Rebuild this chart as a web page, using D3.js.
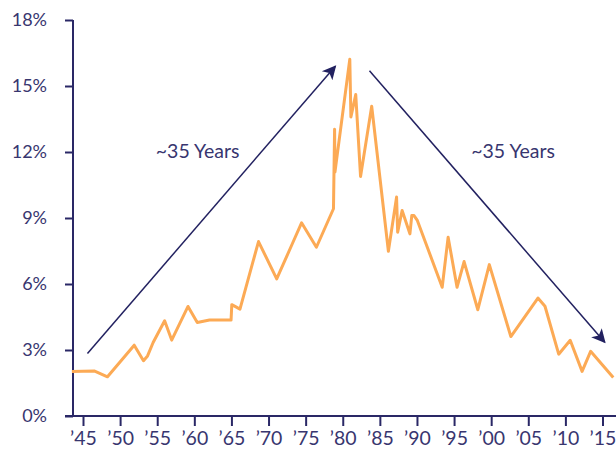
<!DOCTYPE html>
<html>
<head>
<meta charset="utf-8">
<script src="https://cdn.jsdelivr.net/npm/d3@7"></script>
<style>
  body { margin: 0; background: #fff; }
  svg text { font-family: Lato, "Open Sans", sans-serif; }
</style>
</head>
<body>
<svg id="drawing_region"></svg>
<script>
// yield line (year, percent)
const years = [1943.5, 1946.5, 1948.3, 1951.9, 1953.15, 1953.7, 1954.45, 1956.0, 1956.95, 1959.15,
               1960.4, 1962.05, 1964.95, 1965.05, 1966.15, 1968.65, 1971.1, 1973.1, 1974.45, 1976.45,
               1978.75, 1978.9, 1978.95, 1980.95, 1981.1, 1981.75, 1982.4, 1983.9, 1986.15, 1987.25,
               1987.4, 1988.0, 1989.05, 1989.3, 1989.6, 1990.05, 1993.4, 1994.2, 1995.4, 1996.35,
               1998.2, 1999.75, 2002.65, 2006.3, 2007.25, 2009.1, 2010.65, 2012.25, 2013.4, 2016.45];
const rates = [2.02, 2.05, 1.78, 3.22, 2.51, 2.73, 3.34, 4.33, 3.45, 4.98,
               4.25, 4.36, 4.36, 5.06, 4.86, 7.93, 6.23, 7.75, 8.78, 7.67,
               9.42, 13.03, 11.09, 16.22, 13.59, 14.61, 10.89, 14.08, 7.49, 9.95,
               8.35, 9.34, 8.28, 9.11, 9.11, 8.89, 5.85, 8.13, 5.85, 7.02,
               4.83, 6.88, 3.61, 5.36, 4.99, 2.81, 3.44, 2.03, 2.94, 1.75];

const xTicks = [1945, 1950, 1955, 1960, 1965, 1970, 1975, 1980, 1985, 1990, 1995, 2000, 2005, 2010, 2015];
const yTicks = [0, 3, 6, 9, 12, 15, 18];

// trend arrows: [year, percent] start -> end
const arrows = [
  { from: [1945.6, 2.84], to: [1979.0, 15.9], label: "~35 Years", at: [1960.45, 11.75] },
  { from: [1983.6, 15.69], to: [2015.3, 3.35], label: "~35 Years", at: [2002.95, 11.75] }
];

const config = {
  width: 616,
  height: 451,
  axisX: 73,
  orange: "#fcaa55",
  navy: "#2a2866",
  text: "#38366f"
};

const svg = d3.select("#drawing_region")
  .attr("width", config.width)
  .attr("height", config.height);

const x = d3.scaleLinear().domain([1945, 2015]).range([83, 602.5]);
const y = d3.scaleLinear().domain([0, 18]).range([416, 20]);

svg.append("defs").append("marker")
  .attr("id", "head")
  .attr("viewBox", "0 0 10 10")
  .attr("refX", 9)
  .attr("refY", 5)
  .attr("markerUnits", "userSpaceOnUse")
  .attr("markerWidth", 17)
  .attr("markerHeight", 14)
  .attr("orient", "auto")
  .append("path")
  .attr("d", "M0,0 L10,5 L0,10 L2.5,5 Z")
  .attr("fill", "#222160");

// x axis
const xAxis = svg.append("g")
  .attr("transform", `translate(0,${y(0)})`)
  .call(d3.axisBottom(x).tickValues(xTicks).tickSize(10).tickPadding(5)
    .tickFormat(d => "\u2019" + String(d).slice(2)));
xAxis.select(".domain").attr("d", `M${config.axisX - 8},0H${config.width}`);

// y axis
const yAxis = svg.append("g")
  .attr("transform", `translate(${config.axisX},0)`)
  .call(d3.axisLeft(y).tickValues(yTicks).tickSize(8).tickPadding(18)
    .tickFormat(d => d + "%"));
yAxis.select(".domain").attr("d", `M0,${y(18)}V${y(0)}`);

svg.selectAll(".domain, .tick line")
  .attr("stroke", config.navy)
  .attr("stroke-width", 2);
yAxis.selectAll(".tick text")
  .attr("fill", config.text)
  .attr("font-size", 18);
xAxis.selectAll(".tick text")
  .attr("fill", config.text)
  .attr("font-size", 19.5);

// line
const line = d3.line()
  .x((d, i) => x(years[i]))
  .y(d => y(d));

svg.append("path")
  .datum(rates)
  .attr("d", line)
  .attr("fill", "none")
  .attr("stroke", config.orange)
  .attr("stroke-width", 3)
  .attr("stroke-linejoin", "round");

// arrows and labels
arrows.forEach(a => {
  svg.append("line")
    .attr("x1", x(a.from[0])).attr("y1", y(a.from[1]))
    .attr("x2", x(a.to[0])).attr("y2", y(a.to[1]))
    .attr("stroke", "#222160")
    .attr("stroke-width", 1.5)
    .attr("marker-end", "url(#head)");
  svg.append("text")
    .attr("x", x(a.at[0]))
    .attr("y", y(a.at[1]))
    .attr("text-anchor", "middle")
    .attr("fill", config.text)
    .attr("font-size", 19.5)
    .text(a.label);
});
</script>
</body>
</html>
